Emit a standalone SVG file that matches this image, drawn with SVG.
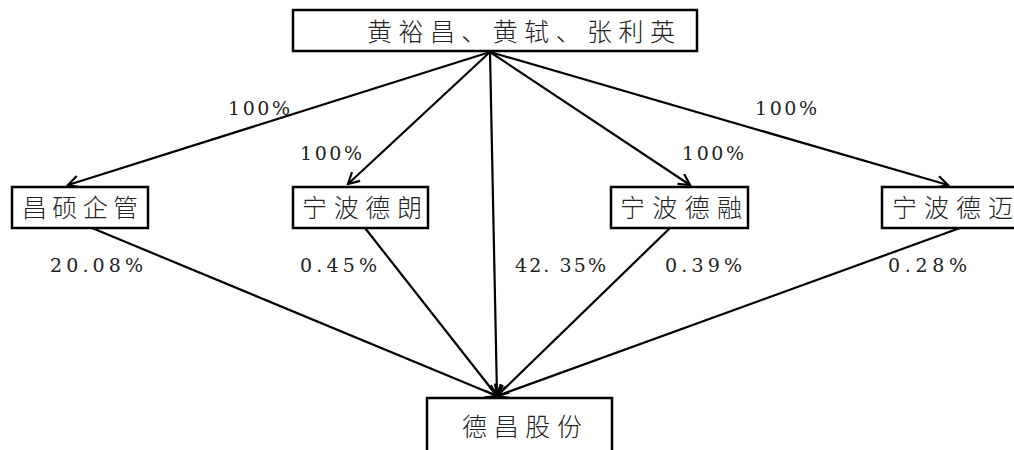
<svg xmlns="http://www.w3.org/2000/svg" width="1014" height="450" viewBox="0 0 1014 450">
<style>
.box{fill:#fff;stroke:#000;stroke-width:2.5}
.cj{font-family:"Noto Sans CJK SC","Noto Sans CJK JP",sans-serif;font-size:25px;font-weight:300;fill:#222}
.pc{font-family:"DejaVu Serif",serif;font-size:19px;fill:#222}
.ln{stroke:#000;stroke-width:2.2;fill:none}
</style>
<defs>
<marker id="ah" markerWidth="14" markerHeight="14" refX="12" refY="7" orient="auto" markerUnits="userSpaceOnUse">
<path d="M1,1 L12,7 L1,13" fill="none" stroke="#000" stroke-width="2.2"/>
</marker>
</defs>
<g id="connectors">
<line class="ln" x1="490" y1="52" x2="68" y2="185" marker-end="url(#ah)"/>
<line class="ln" x1="490" y1="52" x2="348" y2="184" marker-end="url(#ah)"/>
<line class="ln" x1="490" y1="52" x2="690" y2="185" marker-end="url(#ah)"/>
<line class="ln" x1="490" y1="52" x2="948" y2="185" marker-end="url(#ah)"/>
<line class="ln" x1="490" y1="52" x2="497" y2="396" marker-end="url(#ah)"/>
<line class="ln" x1="92" y1="228" x2="497" y2="396" marker-end="url(#ah)"/>
<line class="ln" x1="365" y1="228" x2="497" y2="396" marker-end="url(#ah)"/>
<line class="ln" x1="670" y1="228" x2="497" y2="396" marker-end="url(#ah)"/>
<line class="ln" x1="960" y1="228" x2="497" y2="396" marker-end="url(#ah)"/>
<text class="pc" x="228" y="115" textLength="62">100%</text>
<text class="pc" x="300" y="160" textLength="62">100%</text>
<text class="pc" x="682" y="160" textLength="62">100%</text>
<text class="pc" x="755" y="115" textLength="62">100%</text>
<text class="pc" x="50" y="272" textLength="93">20.08%</text>
<text class="pc" x="300" y="272" textLength="77">0.45%</text>
<text class="pc" x="515" y="272" textLength="91">42. 35%</text>
<text class="pc" x="665" y="272" textLength="77">0.39%</text>
<text class="pc" x="888" y="272" textLength="79">0.28%</text>
</g>
<g id="top">
<rect class="box" x="293" y="10" width="404" height="41"/>
<text class="cj" x="367" y="41" textLength="308">黄裕昌、黄轼、张利英</text>
</g>
<g id="changshuo">
<rect class="box" x="12" y="187" width="136" height="41"/>
<text class="cj" x="22" y="217" textLength="116">昌硕企管</text>
</g>
<g id="ningbodelang">
<rect class="box" x="293" y="187" width="135" height="41"/>
<text class="cj" x="302" y="217" textLength="120">宁波德朗</text>
</g>
<g id="ningbiderong">
<rect class="box" x="611" y="187" width="137" height="41"/>
<text class="cj" x="620" y="217" textLength="122">宁波德融</text>
</g>
<g id="ningbodemai">
<rect class="box" x="882" y="187" width="136" height="41"/>
<text class="cj" x="892" y="217" textLength="121">宁波德迈</text>
</g>
<g id="dechang">
<rect class="box" x="427" y="398" width="185" height="60"/>
<text class="cj" x="462" y="436" textLength="120">德昌股份</text>
</g>
</svg>
